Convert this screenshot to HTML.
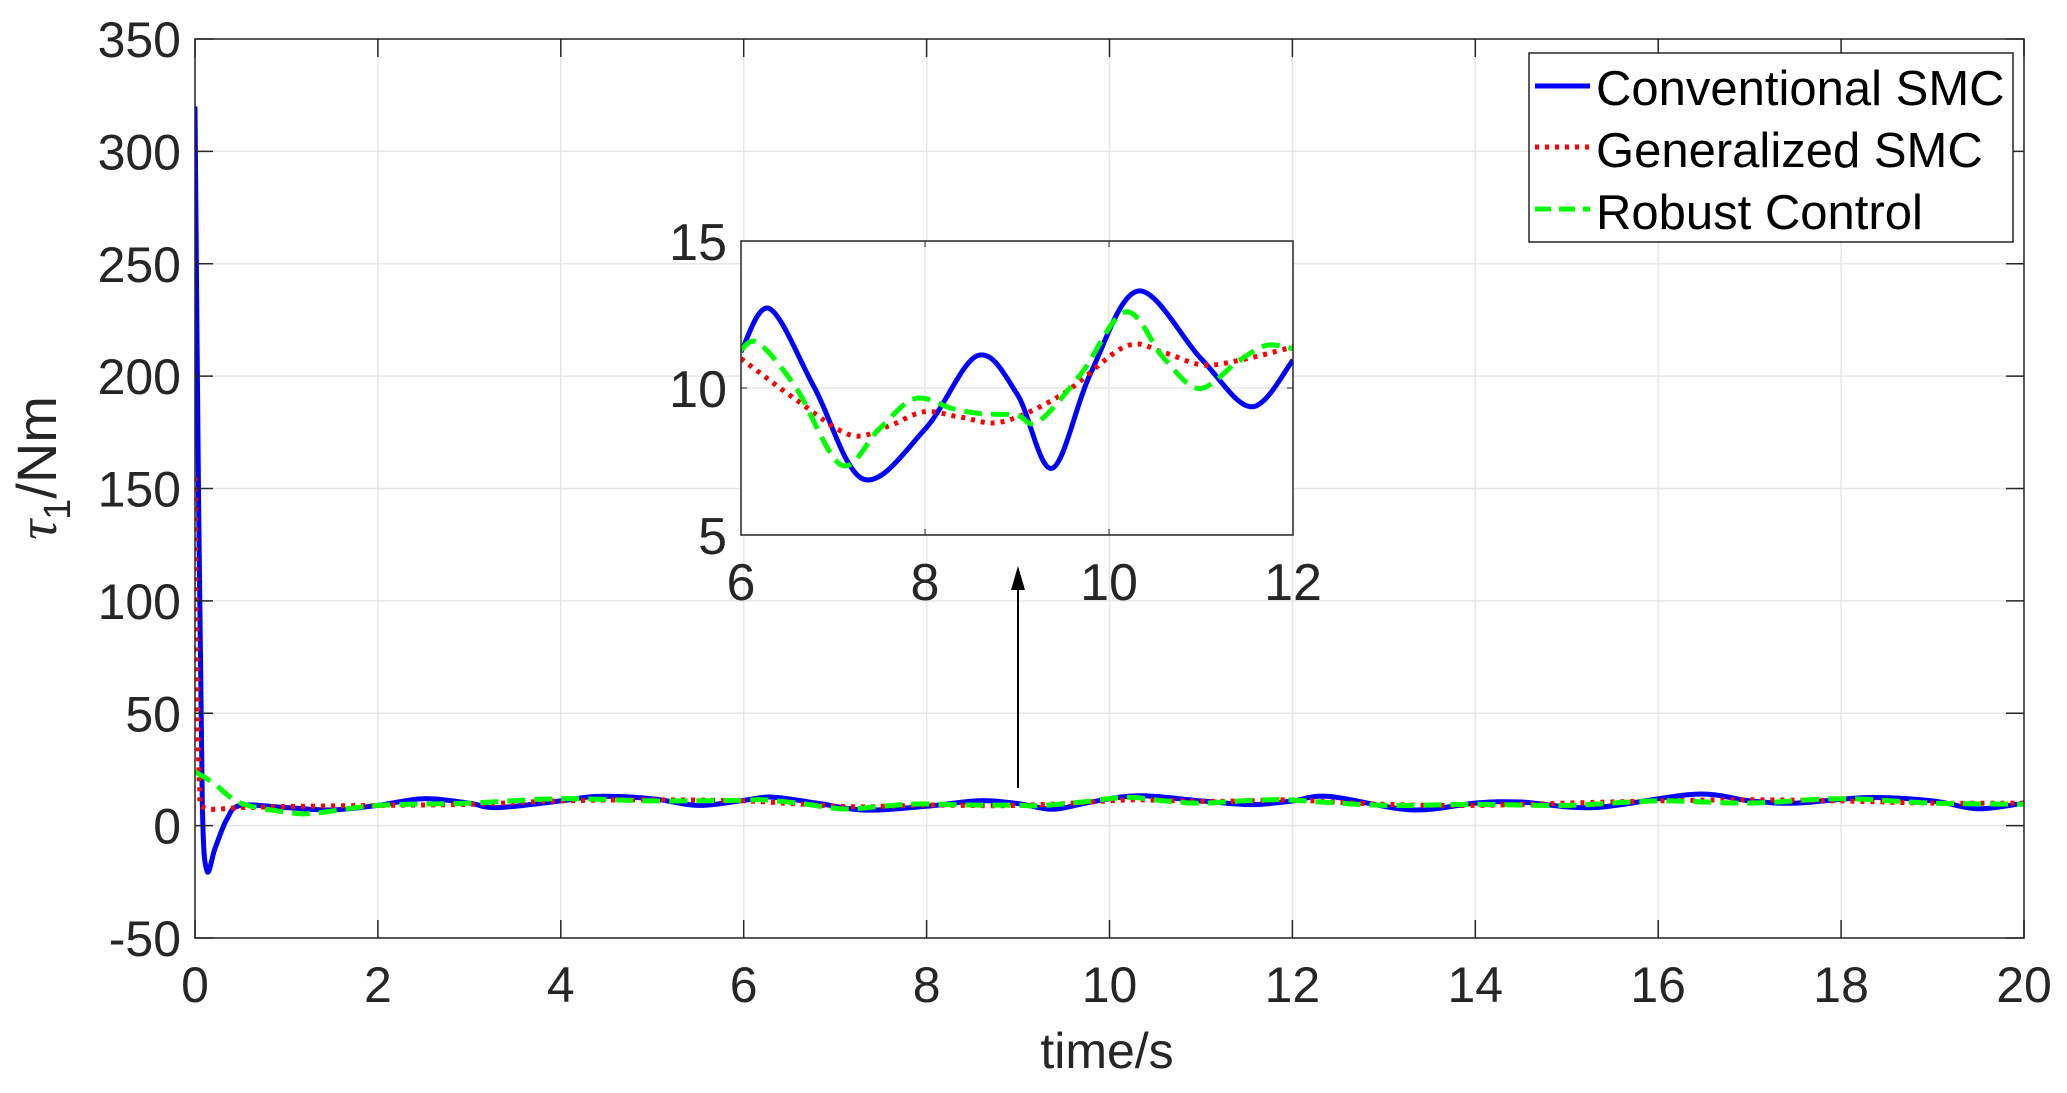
<!DOCTYPE html>
<html><head><meta charset="utf-8">
<style>
html,body{margin:0;padding:0;background:#fff;}
svg{display:block;font-family:"Liberation Sans",Arial,sans-serif;}
</style></head>
<body>
<svg id="s" width="2067" height="1093" viewBox="0 0 2067 1093" xmlns="http://www.w3.org/2000/svg">
<rect width="2067" height="1093" fill="#fff"/>
</svg>
<script>
const NS="http://www.w3.org/2000/svg";
const svg=document.getElementById('s');
function el(t,a,p){const e=document.createElementNS(NS,t);for(const k in a)e.setAttribute(k,a[k]);(p||svg).appendChild(e);return e;}
function txt(x,y,s,a){const e=el('text',Object.assign({x:x,y:y},a));e.textContent=s;return e;}
const L=195,R=2024,T=39,B=938;
const mx=x=>L+(R-L)*x/20, my=y=>B-(B-T)*(y+50)/400;
for(let i=0;i<=10;i++){const x=mx(i*2);el('line',{x1:x,y1:T,x2:x,y2:B,stroke:'#e6e6e6','stroke-width':1.5});}
for(let v=-50;v<=350;v+=50){const y=my(v);el('line',{x1:L,y1:y,x2:R,y2:y,stroke:'#e6e6e6','stroke-width':1.5});}
function path(pts,fx,fy){let d='M'+fx(pts[0][0]).toFixed(1)+','+fy(pts[0][1]).toFixed(1);
 for(let i=0;i<pts.length-1;i++){const p0=pts[Math.max(i-1,0)],p1=pts[i],p2=pts[i+1],p3=pts[Math.min(i+2,pts.length-1)];
  const P=p=>[fx(p[0]),fy(p[1])];const a=P(p0),b=P(p1),c=P(p2),e=P(p3);
  const c1=[b[0]+(c[0]-a[0])/6,b[1]+(c[1]-a[1])/6],c2=[c[0]-(e[0]-b[0])/6,c[1]-(e[1]-b[1])/6];
  d+=' C'+c1.map(v=>v.toFixed(1))+' '+c2.map(v=>v.toFixed(1))+' '+c.map(v=>v.toFixed(1));}
 return d;}
const blueIn=[[6,11.23],[6.31,12.7],[6.8,10],[7.33,6.9],[8,8.6],[8.57,11.1],[9,9.8],[9.38,7.27],[9.8,10.5],[10.32,13.3],[11,11],[11.55,9.36],[12,10.95]];
const greenIn=[[6,11.3],[6.19,11.53],[6.6,10],[7.09,7.38],[7.5,8.6],[7.89,9.64],[8.3,9.3],[8.6,9.13],[8.99,9.08],[9.23,8.85],[9.7,10.5],[10.18,12.59],[10.6,11],[10.98,9.98],[11.4,10.9],[11.71,11.45],[12,11.34]];
const redIn=[[6,11.0],[6.6,9.6],[7.19,8.4],[7.6,8.7],[7.99,9.19],[8.4,9.0],[8.84,8.85],[9.5,9.8],[10.18,11.42],[10.6,11.2],[11.03,10.78],[11.5,11.0],[12,11.4]];
const blue=[[0,320],[0.04,140],[0.08,10],[0.13,-20],[0.22,-10],[0.35,3],[0.5,9],[1,8],[1.5,7],[2,9],[2.5,12],[3,10],[3.3,8],[4,11],[4.4,13],[5,12],[5.5,9]].concat(blueIn,[[12.4,13],[13.3,7],[14,10],[14.5,10.5],[15.3,8],[16.4,14],[17,11],[17.5,10],[18.3,12.5],[19,11],[19.5,7.5],[20,10]]);
const red=[[0,155],[0.02,70],[0.05,18],[0.1,8],[0.5,8],[1,8.5],[2,9],[3,9.5],[4,11],[5,11.5]].concat(redIn,[[13,9.5],[14,9],[15,10],[16,11],[17,11.5],[18,11],[19,10],[20,10]]);
const green=[[0,24],[0.2,19],[0.5,10],[1,6],[1.3,5.5],[2,9],[3,10],[4,12],[5,11]].concat(greenIn,[[13,9],[14,9.5],[15,9],[16,11],[17,10],[18,12],[19,10],[20,9.5]]);
const defs=el('defs',{});
const cp=el('clipPath',{id:'cm'},defs);el('rect',{x:L,y:T,width:R-L,height:B-T},cp);
const cp2=el('clipPath',{id:'ci'},defs);
const g=el('g',{'clip-path':'url(#cm)'});
el('path',{d:path(blue,mx,my),fill:'none',stroke:'#0000ff','stroke-width':5},g);
el('path',{d:path(red,mx,my),fill:'none',stroke:'#ff0000','stroke-width':5,'stroke-dasharray':'4 6'},g);
el('path',{d:path(green,mx,my),fill:'none',stroke:'#00ff00','stroke-width':5,'stroke-dasharray':'18 9'},g);
el('rect',{x:L,y:T,width:R-L,height:B-T,fill:'none',stroke:'#262626','stroke-width':1.5});
for(let i=0;i<=10;i++){const x=mx(i*2);el('line',{x1:x,y1:B,x2:x,y2:B-18,stroke:'#262626','stroke-width':1.5});el('line',{x1:x,y1:T,x2:x,y2:T+18,stroke:'#262626','stroke-width':1.5});
 txt(x,1002,String(i*2),{'font-size':50,'text-anchor':'middle',fill:'#262626'});}
for(let v=-50;v<=350;v+=50){const y=my(v);el('line',{x1:L,y1:y,x2:L+18,y2:y,stroke:'#262626','stroke-width':1.5});el('line',{x1:R,y1:y,x2:R-18,y2:y,stroke:'#262626','stroke-width':1.5});
 txt(181,y+18,String(v),{'font-size':50,'text-anchor':'end',fill:'#262626'});}
txt(1107,1068,'time/s',{'font-size':50,'text-anchor':'middle',fill:'#262626'});
const yl=el('text',{x:0,y:0,transform:'translate(56,468) rotate(-90)','font-size':56,'text-anchor':'middle',fill:'#262626'});
yl.innerHTML='<tspan font-family="Liberation Serif" font-style="italic">τ</tspan><tspan font-size="38" dy="14">1</tspan><tspan dy="-14">/Nm</tspan>';
el('line',{x1:1018,y1:788,x2:1018,y2:575,stroke:'#000','stroke-width':2});
el('path',{d:'M1011,590 L1018,566 L1025,590 Z',fill:'#000'});
const iL=741,iR=1293,iT=241,iB=535;
const ix=x=>iL+(iR-iL)*(x-6)/6, iy=y=>iB-(iB-iT)*(y-5)/10;
el('rect',{x:iL,y:iT,width:iR-iL,height:iB-iT,fill:'#fff'});
for(const x of [8,10]) el('line',{x1:ix(x),y1:iT,x2:ix(x),y2:iB,stroke:'#e6e6e6','stroke-width':1.5});
el('line',{x1:iL,y1:iy(10),x2:iR,y2:iy(10),stroke:'#e6e6e6','stroke-width':1.5});
el('rect',{x:iL,y:iT,width:iR-iL,height:iB-iT},cp2);
const g2=el('g',{'clip-path':'url(#ci)'});
el('path',{d:path(blueIn,ix,iy),fill:'none',stroke:'#0000ff','stroke-width':5},g2);
el('path',{d:path(redIn,ix,iy),fill:'none',stroke:'#ff0000','stroke-width':5,'stroke-dasharray':'4 6'},g2);
el('path',{d:path(greenIn,ix,iy),fill:'none',stroke:'#00ff00','stroke-width':5,'stroke-dasharray':'18 9'},g2);
el('rect',{x:iL,y:iT,width:iR-iL,height:iB-iT,fill:'none',stroke:'#262626','stroke-width':1.5});
for(const x of [6,8,10,12]){el('line',{x1:ix(x),y1:iB,x2:ix(x),y2:iB-6,stroke:'#262626'});el('line',{x1:ix(x),y1:iT,x2:ix(x),y2:iT+6,stroke:'#262626'});
 txt(ix(x),600,String(x),{'font-size':52,'text-anchor':'middle',fill:'#262626'});}
for(const v of [5,10,15]){txt(727,iy(v)+19,String(v),{'font-size':52,'text-anchor':'end',fill:'#262626'});
 el('line',{x1:iL,y1:iy(v),x2:iL+6,y2:iy(v),stroke:'#262626'});el('line',{x1:iR,y1:iy(v),x2:iR-6,y2:iy(v),stroke:'#262626'});}
el('rect',{x:1529,y:53,width:484,height:189,fill:'#fff',stroke:'#262626','stroke-width':1.5});
el('line',{x1:1535,y1:86,x2:1590,y2:86,stroke:'#0000ff','stroke-width':5});
el('line',{x1:1535,y1:147,x2:1590,y2:147,stroke:'#ff0000','stroke-width':5,'stroke-dasharray':'4 6'});
el('line',{x1:1535,y1:209,x2:1590,y2:209,stroke:'#00ff00','stroke-width':5,'stroke-dasharray':'16 8'});
txt(1596,105,'Conventional SMC',{'font-size':49,fill:'#000'});
txt(1596,167,'Generalized SMC',{'font-size':49,fill:'#000'});
txt(1596,229,'Robust Control',{'font-size':49,fill:'#000'});
</script>
</body></html>
